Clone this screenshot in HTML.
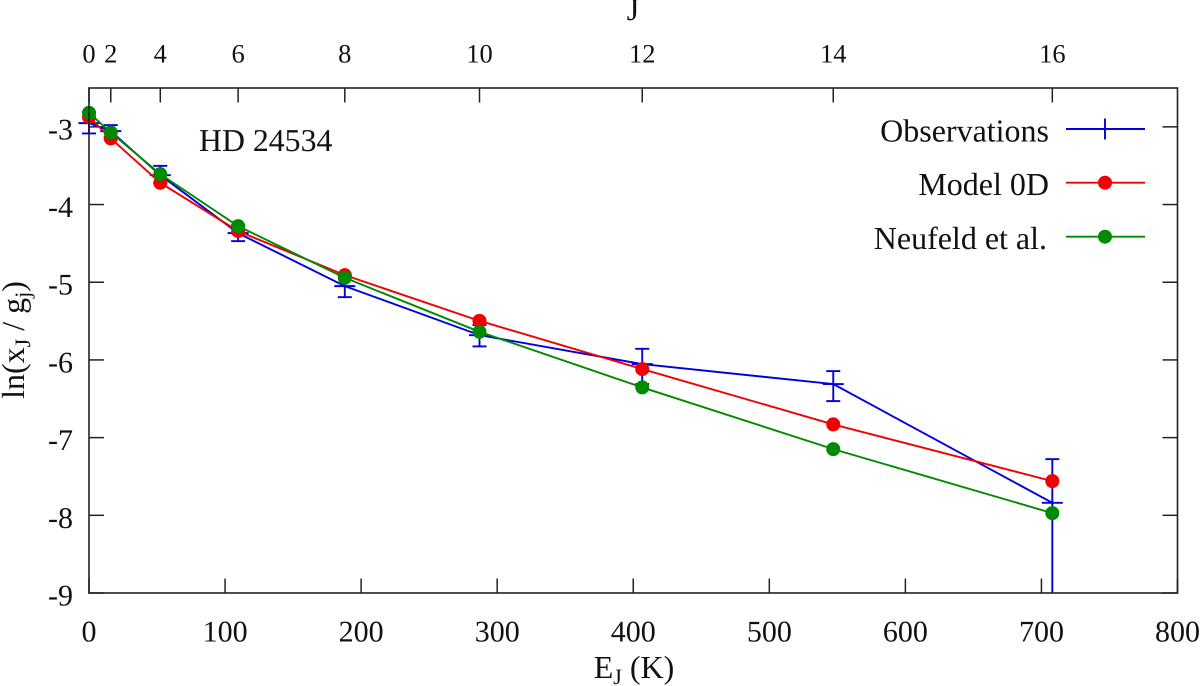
<!DOCTYPE html>
<html lang="en">
<head>
<meta charset="utf-8">
<title>HD 24534 rotational excitation</title>
<style>
  html, body { margin: 0; padding: 0; background: #fff; }
  svg { display: block; font-family: "Liberation Serif", serif; fill: #111; text-rendering: geometricPrecision; }
</style>
</head>
<body>
<svg id="chart" xmlns="http://www.w3.org/2000/svg" width="1200" height="686" viewBox="0 0 1200 686">
  <rect x="0" y="0" width="1200" height="686" fill="#fff"/>
  <g id="ticks"></g>
  <g id="labels"></g>
  <g id="series"></g>
  <rect x="89" y="88" width="1088.5" height="505" fill="none" stroke="#222" stroke-width="1.6"/>
  <text x="633" y="20" font-size="32" text-anchor="middle">J</text>
  <text x="634" y="678" font-size="32" text-anchor="middle">E<tspan font-size="22" dy="6">J</tspan><tspan dy="-6"> (K)</tspan></text>
  <text transform="translate(24,340) rotate(-90)" font-size="32" text-anchor="middle">ln(x<tspan font-size="22" dy="6">J</tspan><tspan dy="-6"> / g</tspan><tspan font-size="22" dy="6">j</tspan><tspan dy="-6">)</tspan></text>
  <text x="199" y="151" font-size="31.8">HD 24534</text>
  <g id="legend">
    <text x="1049" y="141.5" font-size="32" text-anchor="end">Observations</text>
    <line x1="1066" x2="1145" y1="129" y2="129" stroke="#0000e0" stroke-width="1.9"/>
    <line x1="1105" x2="1105" y1="118.5" y2="139.5" stroke="#0000e0" stroke-width="1.9"/>
    <text x="1049" y="195" font-size="32" text-anchor="end">Model 0D</text>
    <line x1="1066" x2="1145" y1="182.7" y2="182.7" stroke="#f00000" stroke-width="1.9"/>
    <circle cx="1105" cy="182.7" r="7" fill="#f00000"/>
    <text x="1047" y="249" font-size="32" text-anchor="end">Neufeld et al.</text>
    <line x1="1066" x2="1145" y1="236.7" y2="236.7" stroke="#008a00" stroke-width="1.9"/>
    <circle cx="1105" cy="236.7" r="7" fill="#008a00"/>
  </g>
</svg>
<script>
const energies = [0, 16, 52.4, 109.6, 188, 287, 406.6, 547, 708];
const jLabels = ['0', '2', '4', '6', '8', '10', '12', '14', '16'];
const xTickValues = [0, 100, 200, 300, 400, 500, 600, 700, 800];
const yTickValues = [-3, -4, -5, -6, -7, -8, -9];
const obsValues = [-2.952, -3.055, -3.622, -4.368, -5.05, -5.681, -6.054, -6.311, -7.839];
const obsUpper = [-2.811, -2.978, -3.502, -4.265, -4.909, -5.552, -5.857, -6.144, -7.277];
const obsLower = [-3.085, -3.133, -3.725, -4.471, -5.192, -5.826, -6.311, -6.53, -10];
const modelValues = [-2.875, -3.149, -3.721, -4.342, -4.909, -5.497, -6.118, -6.83, -7.56];
const neufeldValues = [-2.82, -3.072, -3.609, -4.278, -4.943, -5.638, -6.354, -7.148, -7.972];

const X_MIN = 0, X_MAX = 800, Y_MIN = -9, Y_MAX = -2.5;
const LEFT = 89, RIGHT = 1177.5, TOP = 88, BOTTOM = 593;
const BLUE = '#0000e0', RED = '#f00000', GREEN = '#008a00', AXIS = '#222';
const LINE_W = 1.9;
const NS = 'http://www.w3.org/2000/svg';

function xScale(v) { return LEFT + (v - X_MIN) / (X_MAX - X_MIN) * (RIGHT - LEFT); }
function yScale(v) { return BOTTOM - (Math.max(v, Y_MIN) - Y_MIN) / (Y_MAX - Y_MIN) * (BOTTOM - TOP); }
function add(parent, tag, attrs) {
  const el = document.createElementNS(NS, tag);
  for (const k in attrs) el.setAttribute(k, attrs[k]);
  parent.appendChild(el);
  return el;
}

const ticks = document.getElementById('ticks');
const labels = document.getElementById('labels');
const series = document.getElementById('series');

xTickValues.forEach(function (v) {
  const x = xScale(v);
  const bottomTick = add(ticks, 'line', { x1: x, x2: x, y1: BOTTOM, y2: BOTTOM - 14.5, stroke: AXIS, 'stroke-width': 1.5 });
  
  
  const label = add(labels, 'text', { x: x, y: 641.5, 'font-size': 30, 'text-anchor': 'middle' });
  
  
  label.textContent = String(v);
});

yTickValues.forEach(function (v) {
  const y = yScale(v);
  const leftTick = add(ticks, 'line', { x1: LEFT, x2: LEFT + 15, y1: y, y2: y, stroke: AXIS, 'stroke-width': 1.5 });
  
  
  const rightTick = add(ticks, 'line', { x1: RIGHT - 15, x2: RIGHT, y1: y, y2: y, stroke: AXIS, 'stroke-width': 1.5 });
  
  
  const label = add(labels, 'text', { x: 73, y: y + 12.5, 'font-size': 30, 'text-anchor': 'end' });
  
  
  label.textContent = String(v);
});

energies.forEach(function (e, i) {
  const x = xScale(e);
  const topTick = add(ticks, 'line', { x1: x, x2: x, y1: TOP, y2: TOP + 14.5, stroke: AXIS, 'stroke-width': 1.5 });
  
  
  const label = add(labels, 'text', { x: x, y: 62.5, 'font-size': 26.5, 'text-anchor': 'middle' });
  
  
  label.textContent = jLabels[i];
});

function pointsFor(values) {
  return values.map(function (v, i) { return xScale(energies[i]) + ',' + yScale(v); }).join(' ');
}

const obsLine = add(series, 'polyline', { points: pointsFor(obsValues), fill: 'none', stroke: BLUE, 'stroke-width': LINE_W });



energies.forEach(function (e, i) {
  const x = xScale(e);
  const yc = yScale(obsValues[i]);
  const yu = yScale(obsUpper[i]);
  const yl = yScale(obsLower[i]);

  const bar = add(series, 'line', { x1: x, x2: x, y1: yu, y2: yl, stroke: BLUE, 'stroke-width': LINE_W });
  
  

  const capTop = add(series, 'line', { x1: x - 7, x2: x + 7, y1: yu, y2: yu, stroke: BLUE, 'stroke-width': LINE_W });
  
  

  if (obsLower[i] >= Y_MIN) {
    const capBottom = add(series, 'line', { x1: x - 7, x2: x + 7, y1: yl, y2: yl, stroke: BLUE, 'stroke-width': LINE_W });
    
    
  }

  const plus = add(series, 'line', { x1: x - 10.5, x2: x + 10.5, y1: yc, y2: yc, stroke: BLUE, 'stroke-width': LINE_W });
  
  
});

const modelLine = add(series, 'polyline', { points: pointsFor(modelValues), fill: 'none', stroke: RED, 'stroke-width': LINE_W });



modelValues.forEach(function (v, i) {
  const dot = add(series, 'circle', { cx: xScale(energies[i]), cy: yScale(v), r: 7, fill: RED });
  
  
});

const neufeldLine = add(series, 'polyline', { points: pointsFor(neufeldValues), fill: 'none', stroke: GREEN, 'stroke-width': LINE_W });



neufeldValues.forEach(function (v, i) {
  const dot = add(series, 'circle', { cx: xScale(energies[i]), cy: yScale(v), r: 7, fill: GREEN });
  
  
});
</script>
</body>
</html>
